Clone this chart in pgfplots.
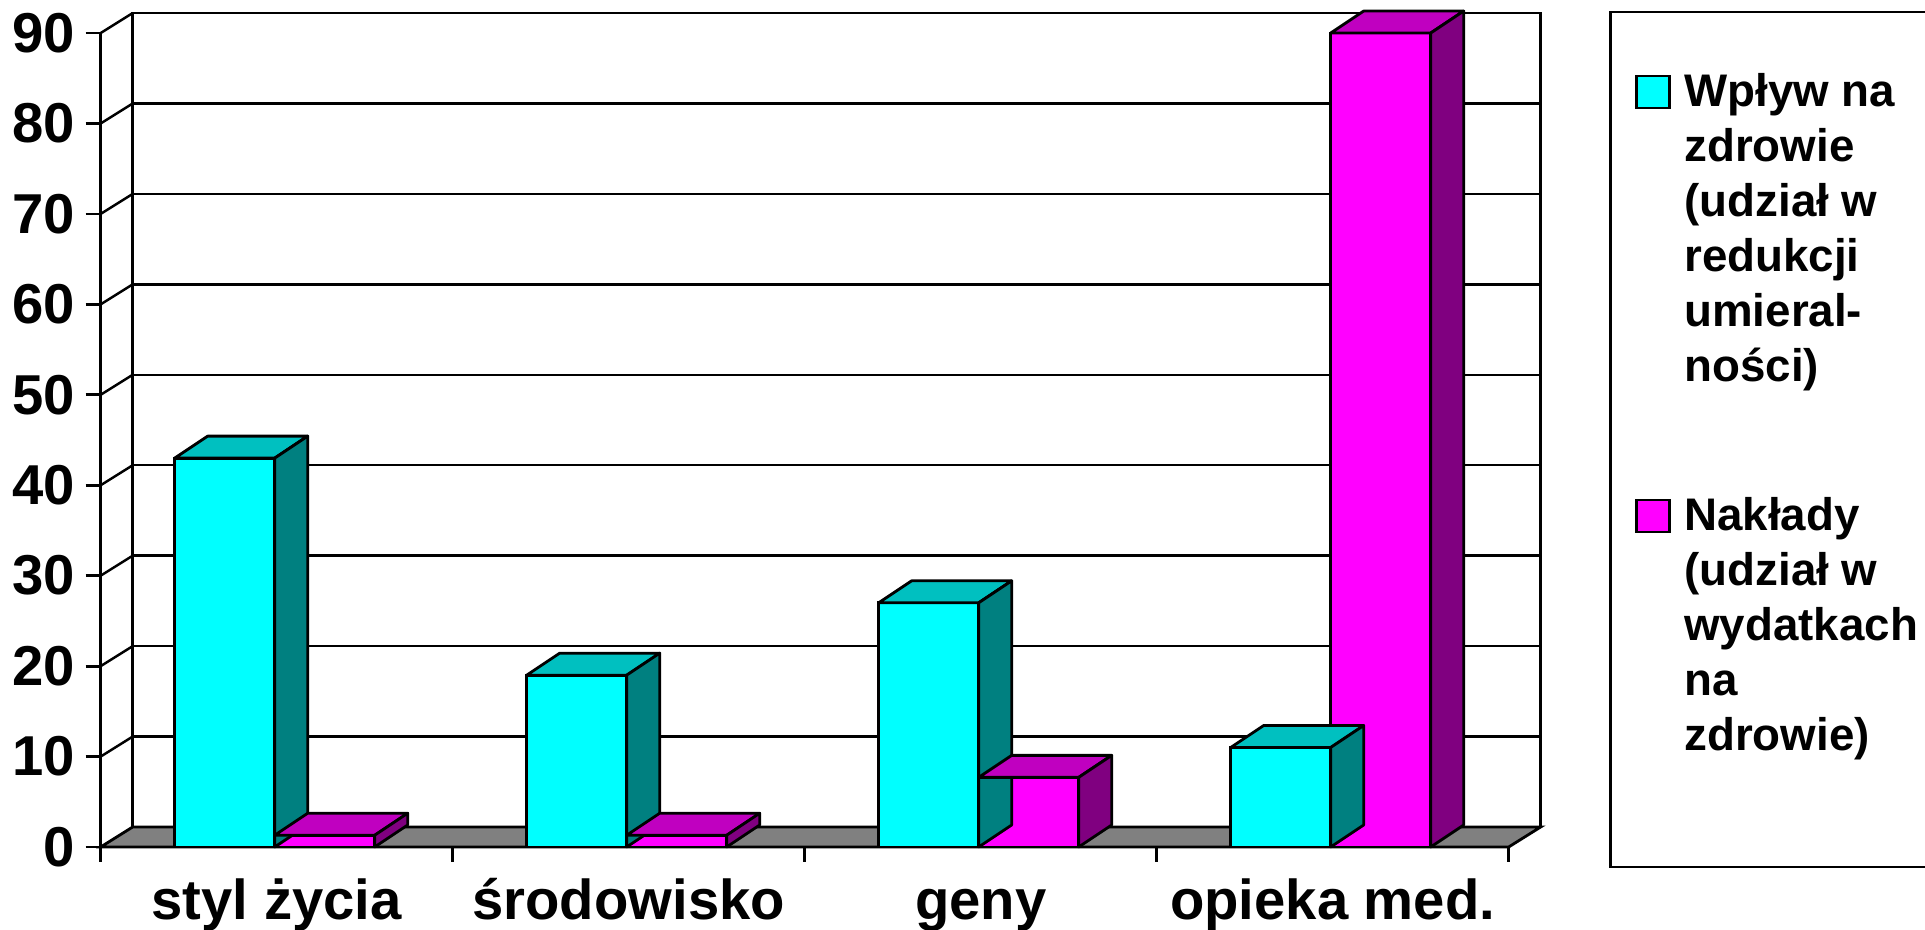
\documentclass[border=0pt]{standalone}
\usepackage{fontspec}
\setmainfont{Liberation Sans}
\usepackage{pgfplots}
\usepackage{pgfplotstable}
\pgfplotsset{compat=1.18}

\definecolor{cyanF}{HTML}{00FFFF}
\definecolor{cyanT}{HTML}{00C0C0}
\definecolor{cyanS}{HTML}{008080}
\definecolor{magF}{HTML}{FF00FF}
\definecolor{magT}{HTML}{C000C0}
\definecolor{magS}{HTML}{800080}
\definecolor{floorgray}{HTML}{808080}

% udzial w redukcji umieralnosci / udzial w wydatkach (w %)
\pgfplotstableread{
x wplyw naklady
0 43 1.3
1 19 1.3
2 27 7.7
3 11 90
}\data

\pgfdeclareplotmark{nothing}{}
\newcommand\yu{0.90444} % mm per unit on the front plane

% top and side of a 3-D column, drawn at each data point
\pgfplotsset{
  faces/.style n args={3}{
    only marks, scatter, mark=nothing,
    visualization depends on={y \as \val},
    scatter/@pre marker code/.code={%
      \pgfmathsetmacro\hh{\val*\yu}%
      \filldraw[fill=#2, draw=black, line width=0.8pt, line join=round]
        (#1-5mm,0mm) -- (#1+5mm,0mm) -- ++(3.3mm,2.2mm) -- ++(-10mm,0mm) -- cycle;
      \filldraw[fill=#3, draw=black, line width=0.8pt, line join=round]
        (#1+5mm,0mm) -- ++(3.3mm,2.2mm) -- ++(0mm,-\hh mm) -- (#1+5mm,-\hh mm) -- cycle;
    },
    scatter/@post marker code/.code={},
  },
  front/.style={ybar, bar width=10mm, bar shift=#1, draw=black, line width=0.8pt},
}

\newcommand\lab{\fontsize{16}{19}\selectfont\bfseries}
\newcommand\legfont{\fontsize{13}{15.65}\selectfont\bfseries}

\begin{document}
\begin{tikzpicture}
% back wall
\begin{axis}[
  at={(3.2mm,2.0mm)}, anchor=south west,
  scale only axis, width=140.8mm, height=81.4mm,
  xmin=-0.5, xmax=3.5, ymin=0, ymax=90,
  xtick=\empty, ytick={10,20,...,80}, yticklabels={},
  major tick length=0pt,
  ymajorgrids, grid style={black, line width=0.7pt},
  axis line style={black, line width=0.8pt},
]
\end{axis}
% front plane with the columns
\begin{axis}[
  at={(0,0)}, anchor=south west,
  scale only axis, width=140.8mm, height=81.4mm,
  xmin=-0.5, xmax=3.5, ymin=0, ymax=90,
  clip=false,
  axis lines*=left,
  axis line style={black, line width=0.8pt},
  tick align=outside, major tick length=1.5mm,
  tick style={black, line width=0.8pt},
  ytick={0,10,...,90},
  xtick={-0.5,0.5,1.5,2.5,3.5},
  x tick label as interval,
  xticklabels={styl życia, środowisko, geny, opieka med.},
  yticklabel style={font=\lab, inner sep=0pt, xshift=-1mm},
  xticklabel style={font=\lab, inner sep=0pt, yshift=-1.5mm,
    text height=4.2mm, text depth=1.3mm},
  /pgf/number format/assume math mode=true,
]
\filldraw[fill=floorgray, draw=black, line width=0.8pt]
  (axis cs:-0.5,0) -- (axis cs:3.5,0) -- ++(3.2mm,2mm) -- ++(-140.8mm,0mm) -- cycle;
\pgfplotsinvokeforeach{10,20,...,90}{
  \draw[black, line width=0.7pt] (axis cs:-0.5,#1) -- ++(3.2mm,2mm);
}
\addplot[front=-5.2mm, fill=cyanF] table[x=x, y=wplyw]{\data};
\addplot[faces={-5.2mm}{cyanT}{cyanS}] table[x=x, y=wplyw]{\data};
\addplot[front=4.8mm, fill=magF] table[x=x, y=naklady]{\data};
\addplot[faces={4.8mm}{magT}{magS}] table[x=x, y=naklady]{\data};
\end{axis}
% legend
\draw[black, line width=0.8pt] (151.0mm,-2.0mm) rectangle (184mm,83.5mm);
\filldraw[fill=cyanF, draw=black, line width=0.7pt] (153.6mm,73.9mm) rectangle (156.9mm,77.1mm);
\node[anchor=north west, align=left, inner sep=0pt, font=\legfont] at (158.3mm,77.4mm)
  {Wpływ na\\zdrowie\\(udział w\\redukcji\\umieral-\\ności)};
\filldraw[fill=magF, draw=black, line width=0.7pt] (153.6mm,31.5mm) rectangle (156.9mm,34.7mm);
\node[anchor=north west, align=left, inner sep=0pt, font=\legfont] at (158.3mm,35.0mm)
  {Nakłady\\(udział w\\wydatkach\\na\\zdrowie)};
\pgfresetboundingbox
\useasboundingbox (-10.07mm,-8.3mm) rectangle (182.43mm,84.7mm);
\end{tikzpicture}
\end{document}
